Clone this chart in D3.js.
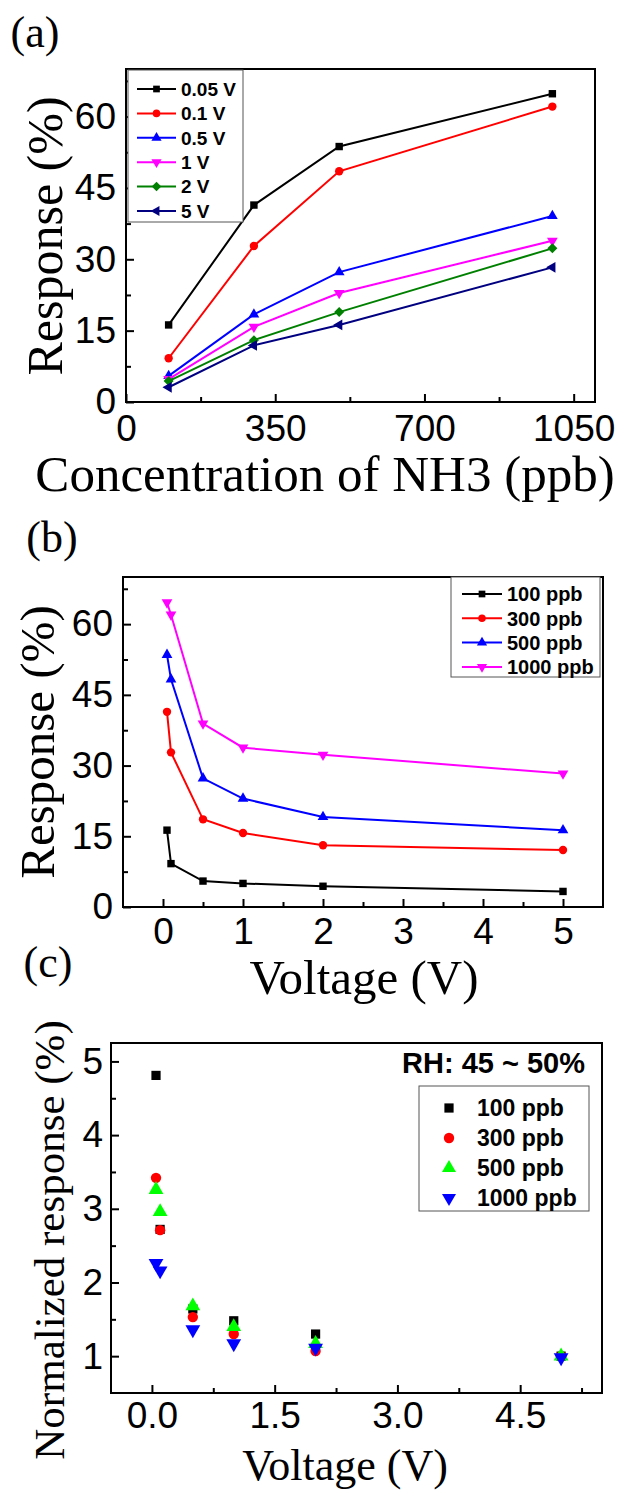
<!DOCTYPE html>
<meta charset="utf-8">
<head>
<style>
body { margin: 0; background: #fff; }
svg { display: block; }
.axis .tick text { font-family: 'Liberation Sans', Arial, sans-serif; font-size: 37px; fill: #000; }
.axis line { stroke: #000; stroke-width: 2; }
.axis path { display: none; }
.frame { fill: none; stroke: #000; stroke-width: 2; }
.title { font-family: 'Liberation Serif', 'Times New Roman', serif; fill: #000; }
.legend text { font-family: 'Liberation Sans', Arial, sans-serif; font-weight: bold; fill: #000; }
.legend rect { fill: #fff; stroke: #555; stroke-width: 1; }
</style>
</head>
<body>
<script src="https://d3js.org/d3.v7.min.js"></script>
<script>
// (a) response vs NH3 concentration, one series per bias voltage
var concA = [100, 300, 500, 1000];
var voltLabels = ["0.05 V", "0.1 V", "0.5 V", "1 V", "2 V", "5 V"];
var resp005V = [16.2, 41.4, 53.7, 64.8];
var resp01V = [9.2, 32.8, 48.5, 62.1];
var resp05V = [5.5, 18.4, 27.3, 39.1];
var resp1V = [4.8, 15.8, 22.9, 33.9];
var resp2V = [4.4, 13.0, 18.9, 32.3];
var resp5V = [3.1, 11.9, 16.2, 28.3];

// (b) response vs voltage, one series per concentration
var voltB = [0.05, 0.1, 0.5, 1, 2, 5];
var ppbLabels = ["100 ppb", "300 ppb", "500 ppb", "1000 ppb"];
var resp100 = [16.3, 9.2, 5.5, 5.0, 4.4, 3.3];
var resp300 = [41.4, 32.8, 18.6, 15.7, 13.1, 12.1];
var resp500 = [53.5, 48.3, 27.3, 23.0, 19.1, 16.3];
var resp1000 = [64.6, 62.0, 38.9, 33.8, 32.3, 28.3];

// (c) normalized response
var voltC = [0.05, 0.1, 0.5, 1, 2, 5];
var norm100 = [4.81, 2.72, 1.64, 1.48, 1.30, 1.0];
var norm300 = [3.42, 2.71, 1.53, 1.30, 1.07, 1.0];
var norm500 = [3.26, 2.96, 1.68, 1.40, 1.17, 1.0];
var norm1000 = [2.26, 2.16, 1.36, 1.17, 1.11, 0.98];

var ticksA_x = [0, 350, 700, 1050], minorA_x = [175, 525, 875];
var ticksA_y = [0, 15, 30, 45, 60], minorA_y = [7.5, 22.5, 37.5, 52.5, 67.5];
var ticksB_x = [0, 1, 2, 3, 4, 5], minorB_x = [0.5, 1.5, 2.5, 3.5, 4.5];
var ticksB_y = [0, 15, 30, 45, 60], minorB_y = [7.5, 22.5, 37.5, 52.5, 67.5];
var ticksC_x = [0, 1.5, 3, 4.5], minorC_x = [0.75, 2.25, 3.75, 5.25];
var ticksC_y = [1, 2, 3, 4, 5], minorC_y = [1.5, 2.5, 3.5, 4.5];

var svg = d3.select("body").append("svg")
    .attr("width", 627)
    .attr("height", 1492);

function marker(shape, size) {
    var type = d3.symbolTriangle, rot = 0;
    if (shape == "square") type = d3.symbolSquare;
    if (shape == "circle") type = d3.symbolCircle;
    if (shape == "down") rot = 180;
    if (shape == "left") rot = -90;
    if (shape == "diamond") { type = d3.symbolSquare; rot = 45; }
    return { path: d3.symbol().type(type).size(size)(), rot: rot };
}

function panel(box, x, y, tx, mx, ty, my, padX, padY) {
    var g = svg.append("g");
    g.append("g").attr("class", "axis")
        .attr("transform", "translate(0," + box.bottom + ")")
        .call(d3.axisBottom(x).tickValues(tx).tickSizeInner(-8).tickSizeOuter(0).tickPadding(padX).tickFormat(box.fx));
    g.append("g").attr("class", "axis")
        .attr("transform", "translate(0," + box.bottom + ")")
        .call(d3.axisBottom(x).tickValues(mx).tickSizeInner(-5).tickSizeOuter(0).tickFormat(""));
    g.append("g").attr("class", "axis")
        .attr("transform", "translate(" + box.left + ",0)")
        .call(d3.axisLeft(y).tickValues(ty).tickSizeInner(-8).tickSizeOuter(0).tickPadding(padY).tickFormat(box.fy));
    g.append("g").attr("class", "axis")
        .attr("transform", "translate(" + box.left + ",0)")
        .call(d3.axisLeft(y).tickValues(my).tickSizeInner(-5).tickSizeOuter(0).tickFormat(""));
    g.append("rect").attr("class", "frame")
        .attr("x", box.left).attr("y", box.top)
        .attr("width", box.right - box.left).attr("height", box.bottom - box.top);
    return g;
}

function series(g, x, y, xs, ys, color, shape, size, withLine) {
    var pts = xs.map(function (d, i) { return { x: d, y: ys[i] }; });
    if (withLine) {
        g.append("path").datum(pts)
            .attr("fill", "none").attr("stroke", color).attr("stroke-width", 2)
            .attr("d", d3.line().x(function (d) { return x(d.x); }).y(function (d) { return y(d.y); }));
    }
    var m = marker(shape, size);
    g.selectAll(null).data(pts).enter().append("path")
        .attr("d", m.path)
        .attr("fill", color)
        .attr("transform", function (d) { return "translate(" + x(d.x) + "," + y(d.y) + ") rotate(" + m.rot + ")"; });
}

function legend(box, entries, rowY, step, lineX0, lineX1, textX, fontSize, size, withLine) {
    var g = svg.append("g").attr("class", "legend");
    g.append("rect").attr("x", box.x0).attr("y", box.y0)
        .attr("width", box.x1 - box.x0).attr("height", box.y1 - box.y0);
    entries.forEach(function (e, i) {
        var yy = rowY + i * step;
        if (withLine) {
            g.append("line").attr("x1", lineX0).attr("x2", lineX1).attr("y1", yy).attr("y2", yy)
                .attr("stroke", e.color).attr("stroke-width", 2);
        }
        var m = marker(e.shape, size);
        g.append("path").attr("d", m.path).attr("fill", e.color)
            .attr("transform", "translate(" + (lineX0 + lineX1) / 2 + "," + yy + ") rotate(" + m.rot + ")");
        g.append("text").attr("x", textX).attr("y", yy).attr("dy", "0.36em")
            .style("font-size", fontSize + "px").text(e.label);
    });
}

function title(txt, x, y, size, rotate) {
    svg.append("text").attr("class", "title")
        .attr("transform", "translate(" + x + "," + y + ")" + (rotate ? " rotate(-90)" : ""))
        .attr("text-anchor", "middle")
        .style("font-size", size + "px")
        .text(txt);
}

// panel (a)
var boxA = { left: 126, right: 595, top: 69, bottom: 402, fx: d3.format("d"), fy: d3.format("d") };
var xA = d3.scaleLinear().domain([0, 1100]).range([boxA.left, boxA.right]);
var yA = d3.scaleLinear().domain([0, 70]).range([boxA.bottom, boxA.top]);
var gA = panel(boxA, xA, yA, ticksA_x, minorA_x, ticksA_y, minorA_y, 13, 10);
var colorsA = ["#000000", "#ff0000", "#0000ff", "#ff00ff", "#008000", "#000080"];
var shapesA = ["square", "circle", "up", "down", "diamond", "left"];
var sizesA = [55, 55, 50, 50, 50, 50];
[resp005V, resp01V, resp05V, resp1V, resp2V, resp5V].forEach(function (s, i) {
    series(gA, xA, yA, concA, s, colorsA[i], shapesA[i], sizesA[i], true);
});
legend({ x0: 128, x1: 243, y0: 70, y1: 222 },
    voltLabels.map(function (l, i) { return { label: l, color: colorsA[i], shape: shapesA[i] }; }),
    89, 24.4, 137, 176, 181, 19, 45, true);
title("(a)", 35, 47, 44, false);
title("Concentration of NH3 (ppb)", 325, 491, 51, false);
title("Response (%)", 62, 236, 50, true);

// panel (b)
var boxB = { left: 123, right: 603, top: 577, bottom: 907, fx: d3.format("d"), fy: d3.format("d") };
var xB = d3.scaleLinear().domain([-0.5, 5.5]).range([boxB.left, boxB.right]);
var yB = d3.scaleLinear().domain([0, 70]).range([boxB.bottom, boxB.top]);
var gB = panel(boxB, xB, yB, ticksB_x, minorB_x, ticksB_y, minorB_y, 11, 10);
var colorsB = ["#000000", "#ff0000", "#0000ff", "#ff00ff"];
var shapesB = ["square", "circle", "up", "down"];
[resp100, resp300, resp500, resp1000].forEach(function (s, i) {
    series(gB, xB, yB, voltB, s, colorsB[i], shapesB[i], sizesA[i], true);
});
legend({ x0: 451, x1: 600, y0: 577, y1: 677 },
    ppbLabels.map(function (l, i) { return { label: l, color: colorsB[i], shape: shapesB[i] }; }),
    594, 24.3, 462, 502, 507, 20, 45, true);
title("(b)", 52, 552, 44, false);
title("Voltage (V)", 364, 994, 49, false);
title("Response (%)", 54, 742, 49, true);

// panel (c)
var boxC = { left: 111, right: 602, top: 1043, bottom: 1393, fx: d3.format(".1f"), fy: d3.format("d") };
var xC = d3.scaleLinear().domain([-0.5, 5.5]).range([boxC.left, boxC.right]);
var yC = d3.scaleLinear().domain([0.5, 5.25]).range([boxC.bottom, boxC.top]);
var gC = panel(boxC, xC, yC, ticksC_x, minorC_x, ticksC_y, minorC_y, 9, 8);
var colorsC = ["#000000", "#ff0000", "#00ff00", "#0000ff"];
var shapesC = ["square", "circle", "up", "down"];
var sizesC = [85, 85, 95, 95];
[norm100, norm300, norm500, norm1000].forEach(function (s, i) {
    series(gC, xC, yC, voltC, s, colorsC[i], shapesC[i], sizesC[i], false);
});
legend({ x0: 419, x1: 589, y0: 1086, y1: 1211 },
    ppbLabels.map(function (l, i) { return { label: l, color: colorsC[i], shape: shapesC[i] }; }),
    1108, 30, 440, 458, 477, 23, 85, false);
svg.append("text").attr("class", "legend")
    .attr("x", 585).attr("y", 1073).attr("text-anchor", "end")
    .style("font-family", "'Liberation Sans', Arial, sans-serif")
    .style("font-weight", "bold").style("font-size", "29px")
    .text("RH: 45 ~ 50%");
title("(c)", 48, 977, 44, false);
title("Voltage (V)", 345, 1480, 44, false);
title("Normalized response (%)", 64, 1240, 43, true);
</script>
</body>
